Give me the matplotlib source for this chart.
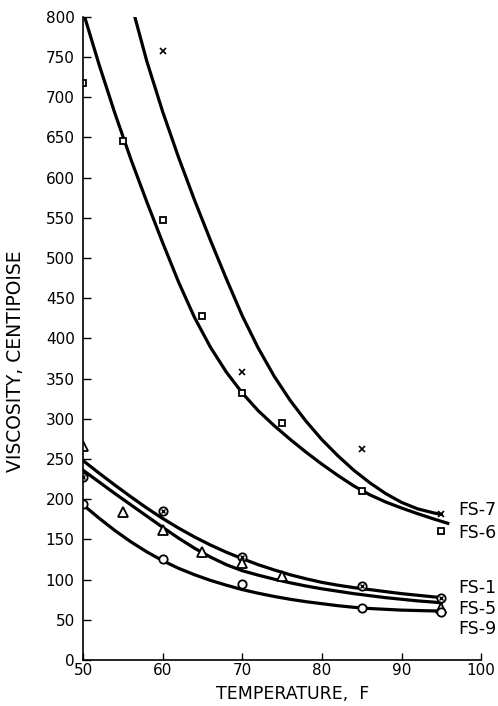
import matplotlib
matplotlib.use("Agg")
import matplotlib.pyplot as plt

# Measured points (temperature F, viscosity cP)
fs7_t = [60, 70, 85, 95]
fs7_v = [757, 358, 262, 181]
fs6_t = [50, 55, 60, 65, 70, 75, 85, 95]
fs6_v = [718, 645, 547, 428, 332, 295, 210, 160]
fs1_t = [50, 60, 70, 85, 95]
fs1_v = [228, 185, 128, 92, 77]
fs5_t = [50, 55, 60, 65, 70, 75, 95]
fs5_v = [266, 184, 162, 134, 120, 104, 65]
fs9_t = [50, 60, 70, 85, 95]
fs9_v = [194, 125, 95, 65, 60]

# Faired curves
fs7_ct = [56.5, 58, 60, 62, 64, 66, 68, 70, 72, 74, 76, 78, 80, 82, 84, 86, 88, 90, 92, 94, 95]
fs7_cv = [800, 745, 682, 625, 572, 522, 474, 428, 388, 353, 323, 297, 274, 254, 236, 220.5, 207, 196, 188, 183, 181]
fs6_ct = [50.2, 52, 54, 56, 58, 60, 62, 64, 66, 68, 70, 72, 74, 76, 78, 80, 82, 84, 86, 88, 90, 92, 94, 95.8]
fs6_cv = [800, 741, 680, 623, 570, 519, 470, 426, 389, 358, 332, 310, 291.5, 274.5, 258.5, 243.5,
          229.5, 216.5, 205.5, 196.5, 189, 182, 175.5, 170]
curve_t = [50, 52, 54, 56, 58, 60, 62, 64, 66, 68, 70, 72, 74, 76, 78, 80, 82, 84, 86, 88, 90, 92, 94, 95]
fs1_cv = [248, 232.5, 217.5, 203, 189, 176, 164, 153, 143, 134, 126, 118.5, 112, 106, 101, 96.5,
          93, 90, 87.5, 85, 82.5, 80.5, 78.5, 77.5]
fs5_cv = [236, 221.5, 207, 193, 179, 165, 151.5, 139, 128, 118.5, 111, 105.5, 100.5, 96, 92, 88.5,
          85.5, 82.5, 80, 77.5, 75.5, 73.5, 72, 71]
fs9_cv = [193, 176.5, 161, 147, 134.5, 123.5, 114, 106, 99, 93, 87.5, 83, 79, 75.5, 72.5, 70,
          67.5, 65.5, 64, 63, 62, 61.5, 61, 61]

labels = ["FS-7", "FS-6", "FS-1", "FS-5", "FS-9"]
label_v = [187, 158, 89, 63, 38]

fig = plt.figure(figsize=(4.98, 7.06), dpi=100)
ax = fig.add_axes([0.1667, 0.0652, 0.7995, 0.9111])

lw = 2.3
ax.plot(fs7_ct, fs7_cv, color="black", lw=lw)
ax.plot(fs6_ct, fs6_cv, color="black", lw=lw)
ax.plot(curve_t, fs1_cv, color="black", lw=lw)
ax.plot(curve_t, fs5_cv, color="black", lw=lw)
ax.plot(curve_t, fs9_cv, color="black", lw=lw)

ax.plot(fs7_t, fs7_v, "x", color="black", ms=4.5, mew=1.2)
ax.plot(fs6_t, fs6_v, "s", mfc="white", mec="black", ms=5, mew=1.3)
ax.plot(fs1_t, fs1_v, "o", mfc="white", mec="black", ms=6, mew=1.3)
ax.plot(fs1_t, fs1_v, "x", color="black", ms=3.5, mew=1.0)
ax.plot(fs5_t, fs5_v, "^", mfc="white", mec="black", ms=6.5, mew=1.3)
ax.plot(fs9_t, fs9_v, "o", mfc="white", mec="black", ms=6, mew=1.3)

for lab, v in zip(labels, label_v):
    ax.text(97.1, v, lab, fontsize=12.5, va="center", ha="left", clip_on=False)

ax.set_xlim(50, 100)
ax.set_ylim(0, 800)
ax.set_xticks(range(50, 101, 10))
ax.set_yticks(range(0, 801, 50))
ax.spines["top"].set_visible(False)
ax.spines["right"].set_visible(False)
ax.spines["left"].set_linewidth(1.2)
ax.spines["bottom"].set_linewidth(1.2)
ax.tick_params(axis="y", direction="in", length=6, width=1.0, labelsize=11, pad=6)
ax.tick_params(axis="x", direction="in", length=5, width=1.0, labelsize=11, pad=2)

fig.text(0.5883, 0.004, "TEMPERATURE,  F", fontsize=12.5, ha="center", va="bottom")
fig.text(0.032, 0.489, "VISCOSITY, CENTIPOISE", fontsize=13.5, rotation=90,
         ha="center", va="center")

plt.savefig("out.png", dpi=100)
